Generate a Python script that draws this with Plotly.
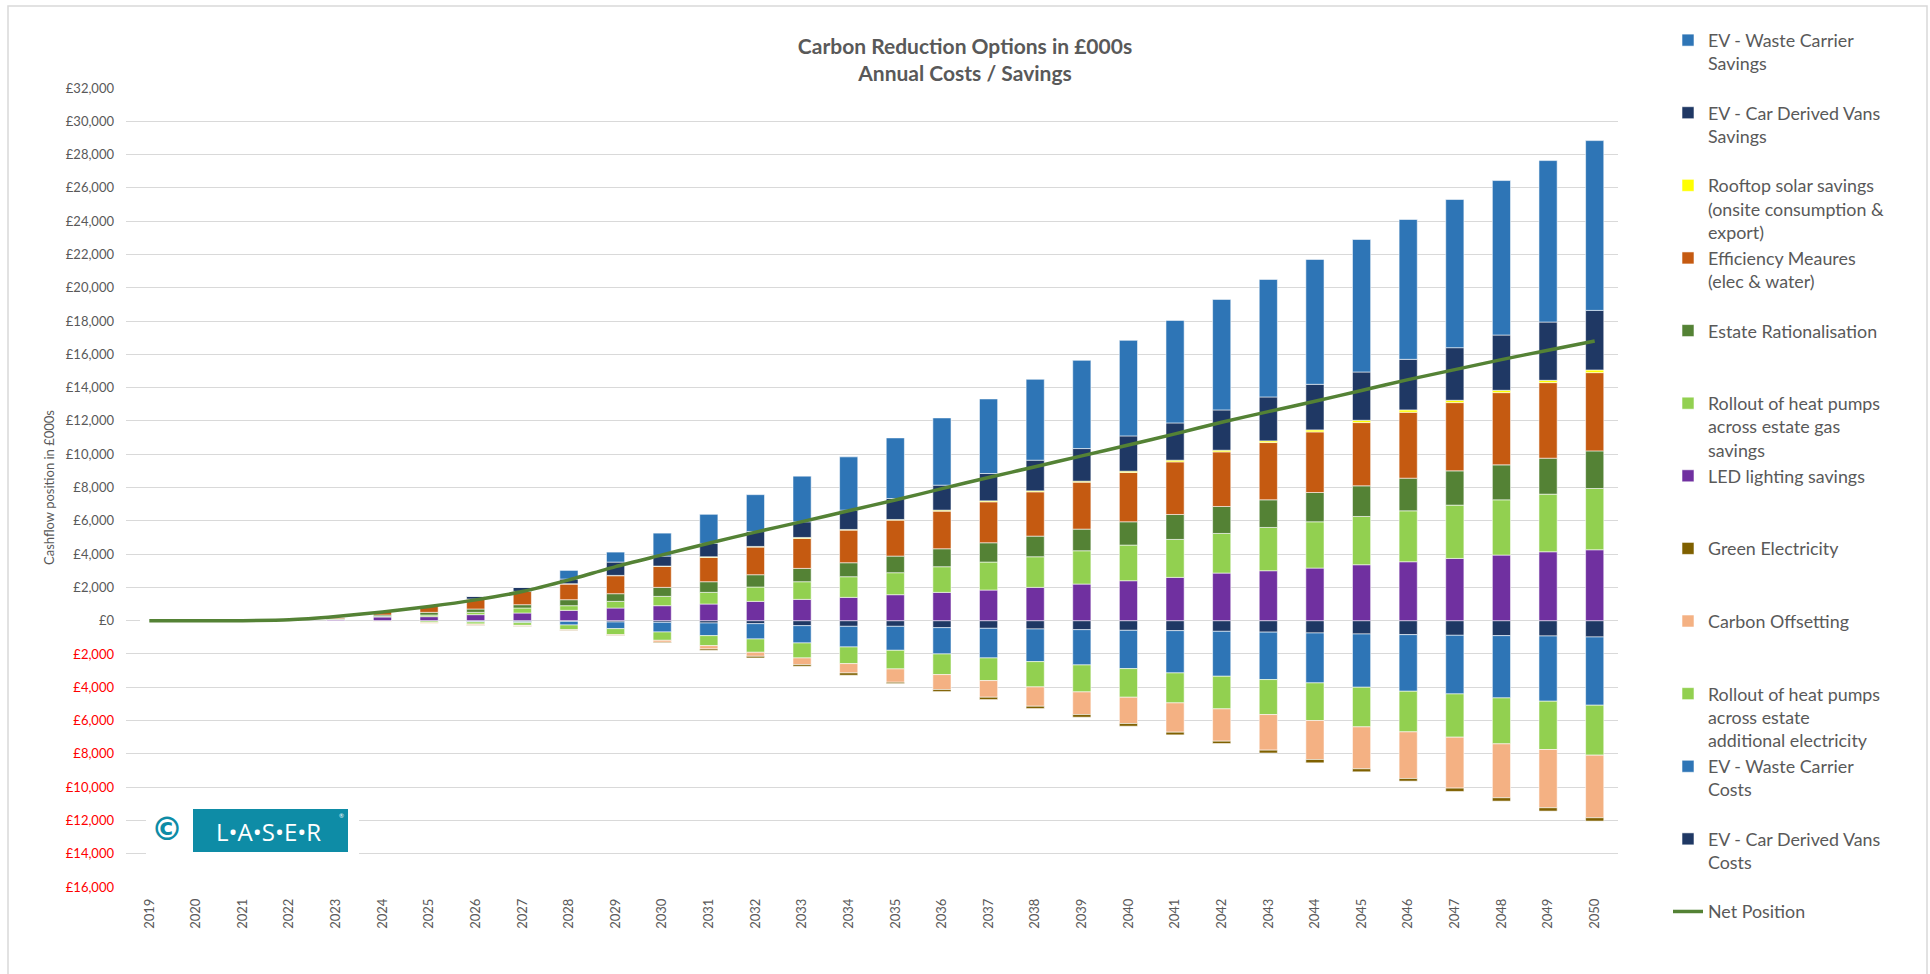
import plotly.graph_objects as go

years = [str(y) for y in range(2019, 2051)]

# ---- Savings (positive) ----
led_savings = [0, 0, 0, 0, 60, 220, 240, 360, 460, 620, 760, 900, 1000, 1160, 1280, 1400,
               1560, 1700, 1840, 2000, 2200, 2400, 2600, 2860, 3000, 3160, 3360, 3540, 3740, 3940, 4140, 4260]
hp_gas_savings = [0, 0, 0, 0, 20, 40, 100, 140, 300, 280, 400, 560, 700, 860, 1060, 1240,
                  1320, 1540, 1680, 1840, 2000, 2140, 2280, 2380, 2600, 2780, 2900, 3060, 3200, 3320, 3460, 3680]
estate_rationalisation = [0, 0, 0, 0, 40, 80, 160, 200, 200, 360, 460, 540, 640, 740, 800, 840,
                          1000, 1080, 1160, 1240, 1300, 1400, 1500, 1620, 1660, 1760, 1840, 1960, 2060, 2100, 2160, 2260]
efficiency_measures = [0, 0, 0, 0, 100, 220, 400, 600, 800, 940, 1080, 1260, 1460, 1660, 1800, 1960,
                       2160, 2260, 2460, 2660, 2820, 2960, 3160, 3280, 3440, 3640, 3800, 3960, 4100, 4340, 4540, 4700]
rooftop_solar = [0, 0, 0, 0, 0, 0, 0, 0, 0, 20, 20, 20, 40, 40, 60, 40,
                 40, 60, 60, 60, 60, 80, 100, 100, 100, 120, 140, 140, 140, 140, 140, 160]
ev_cdv_savings = [0, 0, 0, 0, 0, 0, 0, 160, 240, 280, 800, 600, 800, 900, 940, 1160,
                  1260, 1500, 1640, 1840, 1960, 2120, 2240, 2420, 2640, 2740, 2900, 3040, 3160, 3320, 3500, 3580]
ev_wc_savings = [0, 0, 0, 0, 0, 0, 0, 0, 0, 520, 600, 1380, 1750, 2210, 2740, 3200,
                 3640, 4040, 4480, 4860, 5300, 5740, 6160, 6640, 7060, 7500, 7960, 8400, 8900, 9280, 9700, 10200]

# ---- Costs (negative) ----
ev_cdv_costs = [0, 0, 0, 0, 0, 0, -20, -40, -60, -40, -80, -100, -140, -180, -300, -340,
                -340, -420, -460, -500, -540, -580, -600, -640, -690, -740, -800, -840, -880, -900, -920, -980]
ev_wc_costs = [0, 0, 0, 0, 0, 0, 0, -40, -60, -220, -400, -580, -760, -920, -1040, -1240,
               -1440, -1580, -1780, -1960, -2120, -2300, -2540, -2700, -2850, -3000, -3200, -3400, -3520, -3740, -3920, -4100]
hp_additional_elec = [0, 0, 0, 0, 0, -40, -100, -120, -160, -280, -360, -500, -600, -800, -900, -1000,
                      -1120, -1240, -1360, -1520, -1620, -1720, -1800, -1960, -2100, -2260, -2380, -2440, -2600, -2760, -2900, -3000]
carbon_offsetting = [0, 0, 0, 0, 0, -20, -40, -60, -40, -60, -60, -120, -200, -240, -400, -560,
                     -800, -900, -1000, -1160, -1360, -1580, -1760, -1940, -2140, -2340, -2520, -2800, -3060, -3240, -3500, -3760]
green_electricity = [0, 0, 0, 0, 0, 0, 0, -20, -20, -20, -20, -40, -80, -100, -100, -140,
                     -80, -120, -140, -140, -160, -160, -160, -140, -170, -200, -180, -160, -200, -200, -200, -200]

net_position = [0, 0, 0, 50, 250, 520, 850, 1250, 1750, 2450, 3250, 3950, 4650, 5320, 5950, 6600,
                7250, 7930, 8600, 9250, 9900, 10550, 11220, 11920, 12560, 13180, 13830, 14480, 15080, 15680, 16250, 16800]

C_BLUE = "#2E75B6"
C_NAVY = "#1F3864"
C_YELLOW = "#FFFF00"
C_ORANGE = "#C55A11"
C_DKGREEN = "#548235"
C_LTGREEN = "#92D050"
C_PURPLE = "#7030A0"
C_BROWN = "#7F6000"
C_SALMON = "#F4B183"

NB = "<br>&nbsp;"
# (name, values, colour, legendrank) in stacking order
bars = [
    ("EV - Car Derived Vans<br>Costs" + NB, ev_cdv_costs, C_NAVY, 12),
    ("EV - Waste Carrier<br>Costs" + NB, ev_wc_costs, C_BLUE, 11),
    ("Rollout of heat pumps<br>across estate<br>additional electricity", hp_additional_elec, C_LTGREEN, 10),
    ("Carbon Offsetting" + NB + NB, carbon_offsetting, C_SALMON, 9),
    ("Green Electricity" + NB + NB, green_electricity, C_BROWN, 8),
    ("LED lighting savings" + NB + NB, led_savings, C_PURPLE, 7),
    ("Rollout of heat pumps<br>across estate gas<br>savings", hp_gas_savings, C_LTGREEN, 6),
    ("Estate Rationalisation" + NB + NB, estate_rationalisation, C_DKGREEN, 5),
    ("Efficiency Meaures<br>(elec & water)" + NB, efficiency_measures, C_ORANGE, 4),
    ("Rooftop solar savings<br>(onsite consumption &<br>export)", rooftop_solar, C_YELLOW, 3),
    ("EV - Car Derived Vans<br>Savings" + NB, ev_cdv_savings, C_NAVY, 2),
    ("EV - Waste Carrier<br>Savings" + NB, ev_wc_savings, C_BLUE, 1),
]

fig = go.Figure()
for name, vals, col, rank in bars:
    fig.add_trace(go.Bar(
        x=years, y=vals, name=name, legendrank=rank,
        marker=dict(color=col, line=dict(color="rgba(255,255,255,0.7)", width=0.8)),
    ))

fig.add_trace(go.Scatter(
    x=years, y=net_position, name="Net Position", legendrank=13, mode="lines",
    line=dict(color=C_DKGREEN, width=3.5, shape="spline", smoothing=0.6),
))

tickvals = list(range(-16000, 32001, 2000))
ticktext = []
for v in tickvals:
    s = "£{:,}".format(abs(v))
    if v < 0:
        s = "<span style='color:#FF0000'>" + s + "</span>"
    ticktext.append(s)

L, R, T, B = 126, 1618, 88, 887
def xp(px):
    return (px - L) / (R - L)
def yp(py):
    return (B - py) / (B - T)

FONT = "Lato, Open Sans, sans-serif"
GREY = "#595959"

fig.update_layout(
    width=1930, height=974,
    margin=dict(l=L, r=1930 - R, t=T, b=974 - B),
    paper_bgcolor="white", plot_bgcolor="white",
    barmode="relative", bargap=0.61,
    font=dict(family=FONT, color=GREY),
    title=dict(
        text="<b>Carbon Reduction Options in £000s<br>Annual Costs / Savings</b>",
        x=0.5, xref="container", xanchor="center",
        y=1 - 54 / 974, yref="container", yanchor="top",
        font=dict(family=FONT, size=21, color=GREY),
    ),
    xaxis=dict(
        type="category", tickangle=-90, showgrid=False, showline=False, ticks="",
        tickfont=dict(size=13, color=GREY, family=FONT), ticklabelstandoff=8,
    ),
    yaxis=dict(
        range=[-16000, 32000], tickvals=tickvals, ticktext=ticktext,
        showgrid=True, gridcolor="#D9D9D9", gridwidth=1,
        zeroline=True, zerolinecolor="#D9D9D9", zerolinewidth=1,
        tickfont=dict(size=13, color=GREY, family=FONT), ticklabelstandoff=11,
        title=dict(text="Cashflow position in £000s", font=dict(size=13, color=GREY, family=FONT), standoff=8),
    ),
    legend=dict(
        x=1668 / 1930, xref="container", xanchor="left",
        y=1 - 22 / 974, yref="container", yanchor="top",
        valign="top", traceorder="normal", maxheight=960,
        font=dict(size=17.85, color=GREY, family=FONT),
        bgcolor="rgba(0,0,0,0)",
    ),
    showlegend=True,
)

# chart border
fig.add_shape(type="rect", xref="paper", yref="paper",
              x0=xp(8), x1=xp(1927), y0=yp(990), y1=yp(6),
              line=dict(color="#D9D9D9", width=1.5), fillcolor="rgba(0,0,0,0)", layer="below")

# logo
fig.add_shape(type="rect", xref="paper", yref="paper",
              x0=xp(146), x1=xp(359), y0=yp(862), y1=yp(800),
              line=dict(width=0), fillcolor="white", layer="above")
fig.add_shape(type="rect", xref="paper", yref="paper",
              x0=xp(193), x1=xp(348), y0=yp(852), y1=yp(809),
              line=dict(width=0), fillcolor="#0E8CA6", layer="above")
fig.add_annotation(xref="paper", yref="paper", x=xp(167), y=yp(829), xanchor="center", yanchor="middle",
                   text="<b>©</b>", showarrow=False, font=dict(size=32, color="#0E8CA6", family="DejaVu Sans"))
fig.add_annotation(xref="paper", yref="paper", x=xp(268), y=yp(831), xanchor="center", yanchor="middle",
                   text="L•A•S•E•R", showarrow=False, font=dict(size=24, color="white", family="Open Sans"))
fig.add_annotation(xref="paper", yref="paper", x=xp(341), y=yp(815), xanchor="center", yanchor="middle",
                   text="®", showarrow=False, font=dict(size=6, color="white"))

fig.write_html("out.html", config={"displayModeBar": False},
               post_script="document.body.style.margin='0';")
